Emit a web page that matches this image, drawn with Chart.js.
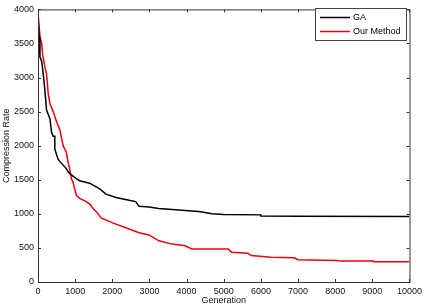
<!DOCTYPE html>
<html>
<head>
<meta charset="utf-8">
<script src="https://cdn.jsdelivr.net/npm/chart.js@4/dist/chart.umd.min.js"></script>
<style>
  html, body { margin: 0; padding: 0; background: #fff; }
  #wrap { width: 426px; height: 306px; position: relative; }
</style>
</head>
<body>
<div id="wrap"><canvas id="c" width="426" height="306"></canvas></div>
<script>
// values
const seriesNames = ['GA', 'Our Method'];
const xTicks = [0, 1000, 2000, 3000, 4000, 5000, 6000, 7000, 8000, 9000, 10000];
const yTicks = [0, 500, 1000, 1500, 2000, 2500, 3000, 3500, 4000];

const gaGen = [0, 30, 53, 98, 142, 187, 231, 320, 364, 409, 453, 453, 542, 587, 765, 835, 1032, 1120, 1387, 1653, 1830, 2100, 2450, 2630, 2720, 2990, 3250, 3790, 4320, 4500, 4675, 5000, 6000, 6000, 7000, 10000];
const gaVal = [3900, 3600, 3300, 3240, 3050, 2800, 2520, 2400, 2200, 2140, 2140, 1950, 1800, 1770, 1660, 1600, 1515, 1486, 1450, 1370, 1290, 1240, 1200, 1180, 1110, 1100, 1080, 1057, 1033, 1019, 1000, 990, 985, 970, 965, 960];

const ourGen = [0, 53, 98, 125, 187, 231, 276, 320, 409, 500, 587, 676, 765, 809, 853, 898, 941, 1030, 1120, 1300, 1400, 1475, 1565, 1700, 2010, 2365, 2720, 2990, 3253, 3608, 3963, 4140, 5120, 5210, 5650, 5740, 6275, 6900, 6990, 8050, 8140, 9030, 9030, 10000];
const ourVal = [3960, 3600, 3500, 3340, 3150, 3050, 2760, 2620, 2500, 2350, 2235, 2000, 1900, 1760, 1660, 1515, 1467, 1276, 1228, 1180, 1140, 1083, 1036, 940, 868, 796, 724, 690, 604, 556, 532, 485, 485, 436, 422, 388, 364, 355, 327, 317, 307, 307, 298, 298];

const FONT = 'Liberation Sans, Arial, sans-serif';

function pts(xs, ys) { return xs.map((x, i) => ({ x: x, y: ys[i] })); }

// MATLAB-style box with inward ticks and an in-plot legend
const matlabBox = {
  id: 'matlabBox',
  afterDatasetsDraw(chart) {
    const ctx = chart.ctx, a = chart.chartArea;
    const xs = chart.scales.x, ys = chart.scales.y;
    ctx.save();
    ctx.strokeStyle = '#333';
    ctx.lineWidth = 1;
    ctx.strokeRect(a.left + 0.5, a.top + 0.5, a.right - a.left, a.bottom - a.top);
    ctx.beginPath();
    const tl = 3;
    xTicks.forEach(v => {
      const px = Math.round(xs.getPixelForValue(v)) + 0.5;
      ctx.moveTo(px, a.bottom); ctx.lineTo(px, a.bottom - tl);
      ctx.moveTo(px, a.top); ctx.lineTo(px, a.top + tl);
    });
    yTicks.forEach(v => {
      const py = Math.round(ys.getPixelForValue(v)) + 0.5;
      ctx.moveTo(a.left, py); ctx.lineTo(a.left + tl, py);
      ctx.moveTo(a.right, py); ctx.lineTo(a.right - tl, py);
    });
    ctx.stroke();

    // legend
    const lx = 315, ly = 8, lw = 91, lh = 32;
    ctx.fillStyle = '#fff';
    ctx.fillRect(lx, ly, lw, lh);
    ctx.strokeStyle = '#444';
    ctx.strokeRect(lx + 0.5, ly + 0.5, lw, lh);
    ctx.font = '9px ' + FONT;
    ctx.textBaseline = 'middle';
    chart.data.datasets.forEach((ds, i) => {
      const yy = ly + 9.5 + i * 14;
      ctx.strokeStyle = ds.borderColor;
      ctx.lineWidth = 1.5;
      ctx.beginPath(); ctx.moveTo(lx + 5, yy); ctx.lineTo(lx + 35, yy); ctx.stroke();
      ctx.fillStyle = '#000';
      ctx.fillText(ds.label, lx + 38, yy + 0.5);
    });
    ctx.restore();
  }
};

new Chart(document.getElementById('c'), {
  type: 'line',
  data: {
    datasets: [
      { label: seriesNames[0], data: pts(gaGen, gaVal), borderColor: '#000000', borderWidth: 1.5, pointRadius: 0, tension: 0 },
      { label: seriesNames[1], data: pts(ourGen, ourVal), borderColor: '#ee0010', borderWidth: 1.5, pointRadius: 0, tension: 0 }
    ]
  },
  options: {
    responsive: false,
    animation: false,
    layout: { padding: { top: 4, right: 13, left: 0, bottom: 0 } },
    plugins: { legend: { display: false }, tooltip: { enabled: false } },
    scales: {
      x: {
        type: 'linear', min: 0, max: 10000,
        afterBuildTicks: s => { s.ticks = xTicks.map(v => ({ value: v })); },
        afterFit: s => { s.height = 24; },
        grid: { display: false, drawTicks: false },
        border: { display: false },
        ticks: { color: '#111', font: { family: FONT, size: 9 }, padding: 4, maxRotation: 0, autoSkip: false, callback: v => String(v) },
        title: { display: true, text: 'Generation', color: '#111', font: { family: FONT, size: 9 }, padding: { top: 0, bottom: 0 } }
      },
      y: {
        type: 'linear', min: 0, max: 4000,
        afterBuildTicks: s => { s.ticks = yTicks.map(v => ({ value: v })); },
        afterFit: s => { s.width = 38; },
        grid: { display: false, drawTicks: false },
        border: { display: false },
        ticks: { color: '#111', font: { family: FONT, size: 9 }, padding: 4, callback: v => String(v) },
        title: { display: true, text: 'Compression Rate', color: '#111', font: { family: FONT, size: 9 }, padding: { top: 1, bottom: 0 } }
      }
    }
  },
  plugins: [matlabBox]
});
</script>
</body>
</html>
